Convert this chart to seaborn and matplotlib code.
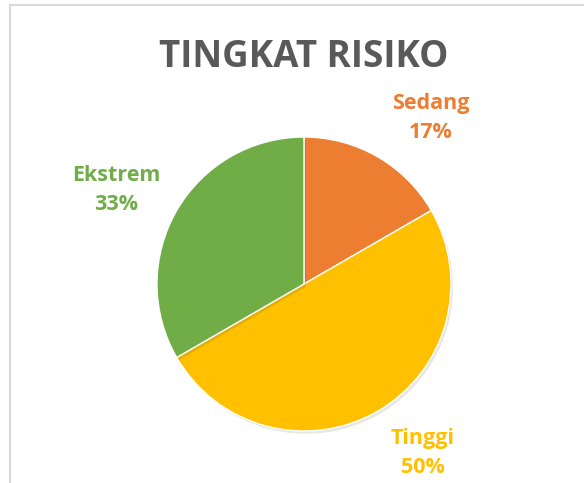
import matplotlib
matplotlib.use("Agg")
import matplotlib.pyplot as plt
import matplotlib.patheffects as pe
import seaborn as sns
from matplotlib.lines import Line2D

# data
categories = ["Sedang", "Tinggi", "Ekstrem"]
counts = [1, 3, 2]
percent_labels = ["17%", "50%", "33%"]
colors = ["#ED7D31", "#FFC000", "#70AD47"]

sns.set_theme(style="white")
plt.rcParams["font.family"] = ["Open Sans", "DejaVu Sans"]

W, H = 584, 483
fig = plt.figure(figsize=(W / 100, H / 100), dpi=100)

# pie centre and radius in pixels
cx, cy, r = 304, 284, 147
ax = fig.add_axes([(cx - r) / W, (H - cy - r) / H, 2 * r / W, 2 * r / H])

# where the data labels sit (pixel centres, like Excel's best fit)
label_px = [(431, 118), (423, 453), (116, 190)]

labels = [f"{c}\n{p}" for c, p in zip(categories, percent_labels)]
wedges, texts = ax.pie(
    counts,
    colors=colors,
    startangle=90,
    counterclock=False,
    labels=labels,
    wedgeprops=dict(linewidth=1.0, edgecolor="white"),
)
for w in wedges:
    w.set_path_effects([pe.SimplePatchShadow(offset=(1.5, -2), alpha=0.12),
                        pe.Normal()])
for t, col, (px, py) in zip(texts, colors, label_px):
    t.set_position(((px - cx) / r, (cy - py) / r))
    t.set_color(col)
    t.set_fontweight("bold")
    t.set_fontsize(15.5)
    t.set_ha("center")
    t.set_va("center")
    t.set_linespacing(1.45)
ax.set_xlim(-1, 1)
ax.set_ylim(-1, 1)
ax.set_aspect("equal")

fig.text(cx / W, 1 - 67 / H, "TINGKAT RISIKO", ha="center", va="baseline",
         fontsize=26.5, fontweight="bold", color="#595959")

# chart frame (left and top edges visible)
border = "#D9D9D9"
fig.add_artist(Line2D([10 / W, 10 / W], [0, 1 - 5 / H], color=border, lw=1.5))
fig.add_artist(Line2D([10 / W, 1], [1 - 5 / H, 1 - 5 / H], color=border, lw=1.5))

fig.savefig("out.png", dpi=100)
